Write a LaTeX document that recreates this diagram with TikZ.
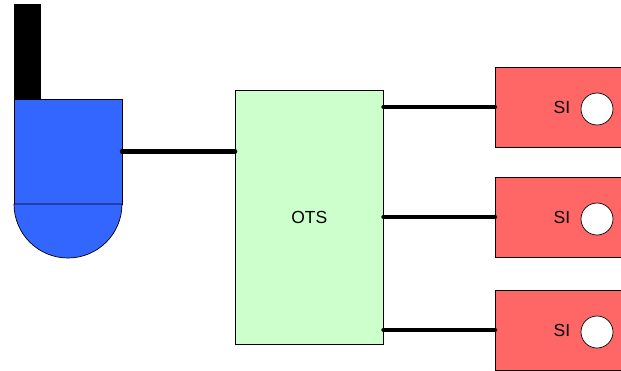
\documentclass[tikz,border=0pt]{standalone}
\usepackage{fontspec}
\setmainfont{Liberation Sans}
\usepackage{xcolor}
\usetikzlibrary{calc}
\definecolor{tankblue}{HTML}{3366FF}
\definecolor{otsgreen}{HTML}{CCFFCC}
\definecolor{sired}{HTML}{FF6666}
\tikzset{every node/.append style={outer sep=0pt}}
\tikzset{tank/.style={draw, line width=.7pt, fill=tankblue, inner sep=0pt}}
\tikzset{otsbox/.style={draw, line width=.7pt, fill=otsgreen, inner sep=0pt, minimum width=148.5pt, minimum height=254pt}}
\tikzset{sibox/.style={draw, line width=.7pt, fill=sired, inner sep=0pt, minimum width=145pt, minimum height=80pt, anchor=west}}
\tikzset{port/.style={circle, draw, line width=.7pt, fill=white, inner sep=0pt, minimum size=32pt}}
\tikzset{link/.style={line width=4.5pt, line cap=round}}

\begin{document}
\begin{tikzpicture}[x=1pt,y=-1pt,font=\fontsize{17.5}{20}\selectfont]
  \useasboundingbox (0, 0) rectangle (621, 370);
  \clip (0, 0) rectangle (621, 370);
  \node[fill=black, draw, line width=.7pt, inner sep=0pt, minimum width=26pt, minimum height=95pt] (stack) at (27, 51.5) {};
  \node[tank, minimum width=108pt, minimum height=105pt] (body) at (68, 151.5) {};
  \draw[line width=.7pt, fill=tankblue] (body.south west) arc (180:0:54) -- cycle;
  \node[otsbox] (ots) at (309.25, 217) {OTS};
  \foreach \lab/\y in {
    1/107,
    2/217,
    3/330%
  } {
    \node[sibox] (si\lab) at (495, \y) {};
    \node (silab\lab) at (562, \y) {SI};
    \node[port] (port\lab) at (597, \y+2) {};
    \draw[link] (ots.east |- si\lab.west) -- (si\lab.west);
  }
  \draw[link] (body.east) -- (ots.west |- body.east);
\end{tikzpicture}
\end{document}
